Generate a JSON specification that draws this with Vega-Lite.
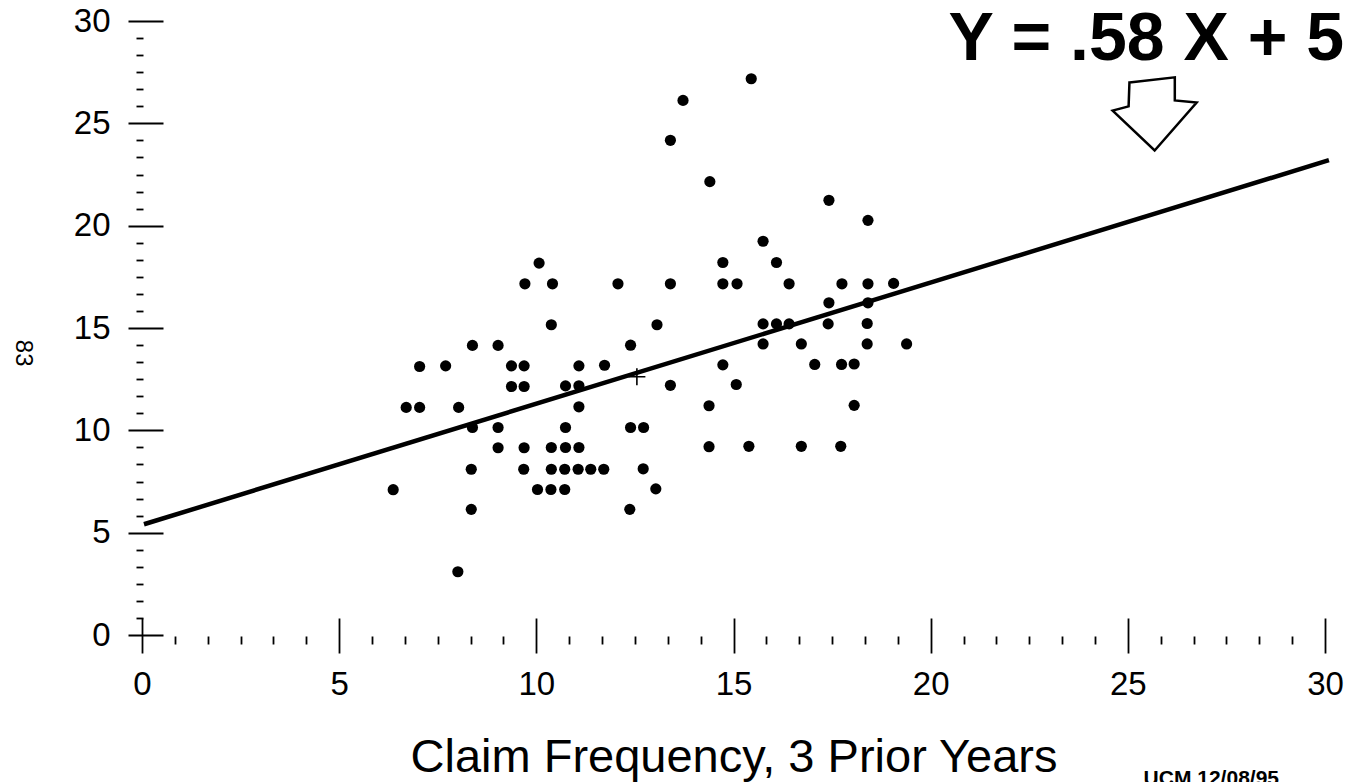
{
  "$schema": "https://vega.github.io/schema/vega-lite/v6.json",
  "width": 1183,
  "height": 614,
  "autosize": {"type": "none"},
  "padding": {"left": 142, "top": 21, "right": 29, "bottom": 147},
  "background": "white",
  "config": {"view": {"stroke": null}, "font": "Liberation Sans"},
  "datasets": {
    "claims": [
      {"prior": 15.45, "current": 27.18},
      {"prior": 13.72, "current": 26.12},
      {"prior": 13.40, "current": 24.17},
      {"prior": 14.40, "current": 22.15},
      {"prior": 17.42, "current": 21.24},
      {"prior": 18.41, "current": 20.26},
      {"prior": 15.75, "current": 19.24},
      {"prior": 10.07, "current": 18.17},
      {"prior": 14.73, "current": 18.2},
      {"prior": 16.09, "current": 18.2},
      {"prior": 9.71, "current": 17.16},
      {"prior": 10.41, "current": 17.16},
      {"prior": 12.07, "current": 17.16},
      {"prior": 13.40, "current": 17.16},
      {"prior": 14.73, "current": 17.16},
      {"prior": 15.09, "current": 17.16},
      {"prior": 16.41, "current": 17.16},
      {"prior": 17.75, "current": 17.16},
      {"prior": 18.41, "current": 17.16},
      {"prior": 19.06, "current": 17.18},
      {"prior": 17.42, "current": 16.23},
      {"prior": 18.41, "current": 16.23},
      {"prior": 10.38, "current": 15.16},
      {"prior": 13.06, "current": 15.16},
      {"prior": 15.75, "current": 15.2},
      {"prior": 16.09, "current": 15.2},
      {"prior": 16.41, "current": 15.2},
      {"prior": 17.40, "current": 15.2},
      {"prior": 18.39, "current": 15.22},
      {"prior": 8.38, "current": 14.15},
      {"prior": 9.03, "current": 14.15},
      {"prior": 12.39, "current": 14.16},
      {"prior": 15.75, "current": 14.22},
      {"prior": 16.72, "current": 14.22},
      {"prior": 18.39, "current": 14.22},
      {"prior": 19.39, "current": 14.22},
      {"prior": 7.04, "current": 13.12},
      {"prior": 7.70, "current": 13.15},
      {"prior": 9.37, "current": 13.15},
      {"prior": 9.69, "current": 13.15},
      {"prior": 11.08, "current": 13.15},
      {"prior": 11.73, "current": 13.18},
      {"prior": 14.73, "current": 13.2},
      {"prior": 17.06, "current": 13.22},
      {"prior": 17.74, "current": 13.22},
      {"prior": 18.06, "current": 13.24},
      {"prior": 9.37, "current": 12.14},
      {"prior": 9.69, "current": 12.14},
      {"prior": 10.74, "current": 12.17},
      {"prior": 11.08, "current": 12.18},
      {"prior": 13.40, "current": 12.2},
      {"prior": 15.07, "current": 12.24},
      {"prior": 6.70, "current": 11.12},
      {"prior": 7.04, "current": 11.12},
      {"prior": 8.03, "current": 11.12},
      {"prior": 11.08, "current": 11.15},
      {"prior": 14.38, "current": 11.2},
      {"prior": 18.06, "current": 11.22},
      {"prior": 8.38, "current": 10.14},
      {"prior": 9.03, "current": 10.14},
      {"prior": 10.74, "current": 10.14},
      {"prior": 12.39, "current": 10.14},
      {"prior": 12.72, "current": 10.14},
      {"prior": 9.03, "current": 9.15},
      {"prior": 9.69, "current": 9.15},
      {"prior": 10.38, "current": 9.16},
      {"prior": 10.74, "current": 9.16},
      {"prior": 11.08, "current": 9.16},
      {"prior": 14.38, "current": 9.2},
      {"prior": 15.39, "current": 9.22},
      {"prior": 16.72, "current": 9.22},
      {"prior": 17.72, "current": 9.22},
      {"prior": 8.35, "current": 8.1},
      {"prior": 9.68, "current": 8.1},
      {"prior": 10.38, "current": 8.1},
      {"prior": 10.72, "current": 8.1},
      {"prior": 11.06, "current": 8.1},
      {"prior": 11.38, "current": 8.1},
      {"prior": 11.71, "current": 8.1},
      {"prior": 12.71, "current": 8.12},
      {"prior": 6.37, "current": 7.1},
      {"prior": 10.03, "current": 7.11},
      {"prior": 10.37, "current": 7.11},
      {"prior": 10.72, "current": 7.11},
      {"prior": 13.03, "current": 7.14},
      {"prior": 8.35, "current": 6.14},
      {"prior": 12.37, "current": 6.14},
      {"prior": 8.01, "current": 3.09}
    ],
    "fit": [
      {"prior": 0.05, "current": 5.41},
      {"prior": 30.1, "current": 23.2}
    ]
  },
  "layer": [
    {
      "data": {"name": "claims"},
      "mark": {"type": "circle", "size": 125, "color": "black", "opacity": 1},
      "encoding": {
        "x": {
          "field": "prior", "type": "quantitative",
          "scale": {"domain": [0, 30], "nice": false, "zero": false},
          "axis": {
            "values": [0, 5, 10, 15, 20, 25, 30], "orient": "bottom",
            "domain": false, "grid": false, "offset": -17,
            "tickSize": 35, "tickWidth": 1.8, "tickColor": "black",
            "labelFont": "Liberation Sans", "labelFontSize": 33, "labelColor": "black",
            "labelPadding": 15, "labelFlush": false, "labelOverlap": false, "format": "d",
            "title": "Claim Frequency, 3 Prior Years",
            "titleFont": "Liberation Sans", "titleFontSize": 47, "titleFontWeight": "normal",
            "titleColor": "black", "titleBaseline": "alphabetic", "titleY": 153
          }
        },
        "y": {
          "field": "current", "type": "quantitative",
          "scale": {"domain": [0, 30], "nice": false, "zero": false},
          "axis": {
            "values": [0, 5, 10, 15, 20, 25, 30], "orient": "left",
            "domain": false, "grid": false, "offset": -21,
            "tickSize": 35, "tickWidth": 1.8, "tickColor": "black",
            "labelFont": "Liberation Sans", "labelFontSize": 33, "labelColor": "black",
            "labelPadding": 18, "labelFlush": false, "labelOverlap": false, "format": "d",
            "title": null
          }
        }
      }
    },
    {
      "data": {"name": "fit"},
      "mark": {"type": "line", "color": "black", "strokeWidth": 4.5, "strokeCap": "butt"},
      "encoding": {
        "x": {
          "field": "prior", "type": "quantitative",
          "scale": {"domain": [0, 30], "nice": false, "zero": false},
          "axis": {
            "values": [0.8333, 1.6667, 2.5, 3.3333, 4.1667, 5.8333, 6.6667, 7.5, 8.3333, 9.1667, 10.8333, 11.6667, 12.5, 13.3333, 14.1667, 15.8333, 16.6667, 17.5, 18.3333, 19.1667, 20.8333, 21.6667, 22.5, 23.3333, 24.1667, 25.8333, 26.6667, 27.5, 28.3333, 29.1667],
            "orient": "bottom", "domain": false, "grid": false, "offset": 1,
            "tickSize": 8, "tickWidth": 1.8, "tickColor": "black",
            "labels": false, "title": null
          }
        },
        "y": {
          "field": "current", "type": "quantitative",
          "scale": {"domain": [0, 30], "nice": false, "zero": false},
          "axis": {
            "values": [0.8333, 1.6667, 2.5, 3.3333, 4.1667, 5.8333, 6.6667, 7.5, 8.3333, 9.1667, 10.8333, 11.6667, 12.5, 13.3333, 14.1667, 15.8333, 16.6667, 17.5, 18.3333, 19.1667, 20.8333, 21.6667, 22.5, 23.3333, 24.1667, 25.8333, 26.6667, 27.5, 28.3333, 29.1667],
            "orient": "left", "domain": false, "grid": false, "offset": -1,
            "tickSize": 7, "tickWidth": 1.8, "tickColor": "black",
            "labels": false, "title": null
          }
        }
      }
    },
    {
      "data": {"values": [{"prior": 12.55, "current": 12.62}]},
      "mark": {"type": "point", "shape": "M-1,0L1,0M0,-1L0,1", "size": 289, "filled": false, "stroke": "black", "strokeWidth": 1.6, "opacity": 1},
      "encoding": {
        "x": {"field": "prior", "type": "quantitative", "scale": {"domain": [0, 30], "nice": false, "zero": false}, "axis": null},
        "y": {"field": "current", "type": "quantitative", "scale": {"domain": [0, 30], "nice": false, "zero": false}, "axis": null}
      }
    },
    {
      "data": {"values": [{"prior": 25.68, "current": 25.46}]},
      "mark": {"type": "point", "shape": "M-0.6,-0.75L0.48,-0.87L0.48,-0.32L1,-0.27L0,0.87L-1,-0.08L-0.62,-0.18Z", "size": 7056, "filled": false, "fill": "white", "stroke": "black", "strokeWidth": 2.5, "strokeJoin": "miter", "opacity": 1},
      "encoding": {
        "x": {"field": "prior", "type": "quantitative", "scale": {"domain": [0, 30], "nice": false, "zero": false}, "axis": null},
        "y": {"field": "current", "type": "quantitative", "scale": {"domain": [0, 30], "nice": false, "zero": false}, "axis": null}
      }
    },
    {
      "data": {"values": [{"prior": 20.45, "current": 28.08, "note": "Y = .58 X + 5"}]},
      "mark": {"type": "text", "align": "left", "baseline": "alphabetic", "font": "Liberation Sans", "fontSize": 68, "fontWeight": "bold", "color": "black"},
      "encoding": {
        "x": {"field": "prior", "type": "quantitative", "scale": {"domain": [0, 30], "nice": false, "zero": false}, "axis": null},
        "y": {"field": "current", "type": "quantitative", "scale": {"domain": [0, 30], "nice": false, "zero": false}, "axis": null},
        "text": {"field": "note"}
      }
    },
    {
      "data": {"values": [{"prior": -3.03, "current": 13.77, "note": "83"}]},
      "mark": {"type": "text", "align": "center", "baseline": "middle", "angle": 90, "font": "Liberation Sans", "fontSize": 24, "color": "black"},
      "encoding": {
        "x": {"field": "prior", "type": "quantitative", "scale": {"domain": [0, 30], "nice": false, "zero": false}, "axis": null},
        "y": {"field": "current", "type": "quantitative", "scale": {"domain": [0, 30], "nice": false, "zero": false}, "axis": null},
        "text": {"field": "note"}
      }
    },
    {
      "data": {"values": [{"prior": 25.4, "current": -6.5, "note": "UCM  12/08/95"}]},
      "mark": {"type": "text", "align": "left", "baseline": "top", "font": "Liberation Sans", "fontSize": 21, "fontWeight": "bold", "color": "black"},
      "encoding": {
        "x": {"field": "prior", "type": "quantitative", "scale": {"domain": [0, 30], "nice": false, "zero": false}, "axis": null},
        "y": {"field": "current", "type": "quantitative", "scale": {"domain": [0, 30], "nice": false, "zero": false}, "axis": null},
        "text": {"field": "note"}
      }
    }
  ],
  "resolve": {"axis": {"x": "independent", "y": "independent"}}
}
